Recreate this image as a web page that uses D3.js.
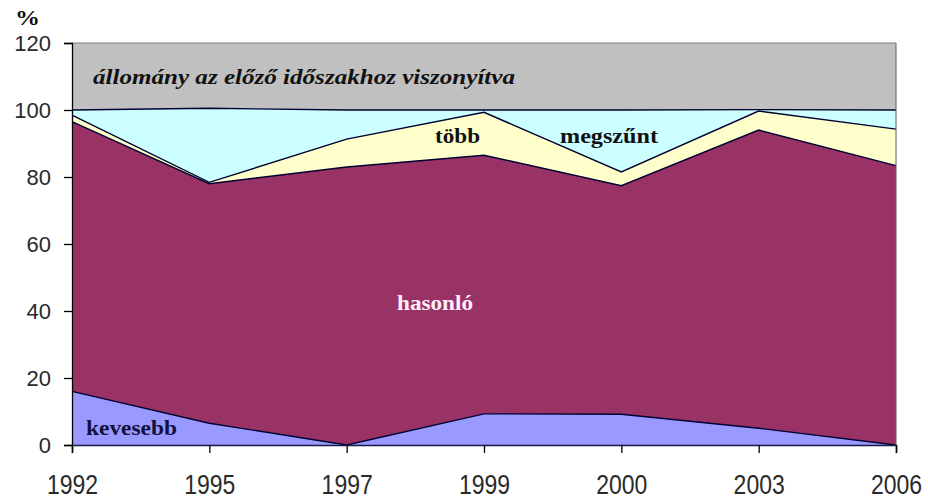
<!DOCTYPE html>
<html><head><meta charset="utf-8">
<script src="https://cdn.jsdelivr.net/npm/d3@7"></script>
<style>body{margin:0;background:#fff}svg{display:block}</style>
</head><body>
<svg id="c" width="928" height="499"></svg>
<script>
const years = ["1992","1995","1997","1999","2000","2003","2006"];
const kevesebb = [16, 6.5, 0, 9.3, 9.2, 5, 0];
const hasonlo  = [80.5, 71.5, 83, 77.2, 68.2, 89, 83.4];
const tobb     = [2, 0.4, 8.3, 12.8, 4.1, 5.7, 10.9];
const megszunt = [1.5, 22.1, 8.7, 0.7, 18.5, 0.4, 5.7];
const yTicks = [0, 20, 40, 60, 80, 100, 120];
const yMax = 120;
const allomany = years.map((_, i) => yMax - kevesebb[i] - hasonlo[i] - tobb[i] - megszunt[i]);

const keys = ["kevesebb","hasonlo","tobb","megszunt","allomany"];
const colors = {kevesebb:"#9999FF", hasonlo:"#993366", tobb:"#FFFFCC", megszunt:"#CCFFFF", allomany:"#C0C0C0"};
const rows = years.map((y, i) => ({year:y, kevesebb:kevesebb[i], hasonlo:hasonlo[i], tobb:tobb[i], megszunt:megszunt[i], allomany:allomany[i]}));

const svg = d3.select("#c");
const L = 72, R = 896, T = 43, B = 445;
const x = d3.scalePoint().domain(years).range([L, R]);
const y = d3.scaleLinear().domain([0, yMax]).range([B, T]);

const stacked = d3.stack().keys(keys)(rows);
const area = d3.area().x(d => x(d.data.year)).y0(d => y(d[0])).y1(d => y(d[1]));
const topLine = d3.line().x(d => x(d.data.year)).y(d => y(d[1]));

svg.append("g").selectAll("path").data(stacked).join("path")
  .attr("d", area).attr("fill", d => colors[d.key]).attr("stroke", "none");

svg.append("g").selectAll("path").data(stacked.filter(s => s.key !== "allomany")).join("path")
  .attr("d", topLine).attr("fill", "none").attr("stroke", "#000033").attr("stroke-width", 1.4);

// plot border (top and right)
svg.append("line").attr("x1", L).attr("x2", R).attr("y1", T).attr("y2", T).attr("stroke", "#808080").attr("stroke-width", 1);
svg.append("line").attr("x1", R).attr("x2", R).attr("y1", T).attr("y2", B).attr("stroke", "#606060").attr("stroke-width", 1);

// Y axis
const yAxis = svg.append("g").attr("transform", `translate(${L},0)`)
  .call(d3.axisLeft(y).tickValues(yTicks).tickSize(8).tickPadding(13).tickFormat(d3.format("d")));
yAxis.select(".domain").attr("stroke", "#000").attr("stroke-width", 1.3);
yAxis.selectAll(".tick line").attr("stroke", "#000").attr("stroke-width", 1.3);
yAxis.selectAll("text").attr("font-family", "Liberation Sans, Arial, sans-serif").attr("font-size", 22).attr("fill", "#2a2a2a");

// X axis
const xAxis = svg.append("g").attr("transform", `translate(0,${B})`)
  .call(d3.axisBottom(x).tickSize(8).tickPadding(0));
xAxis.select(".domain").attr("stroke", "#1a1a4a").attr("stroke-width", 1.6);
xAxis.selectAll(".tick line").attr("stroke", "#000").attr("stroke-width", 1.3);
xAxis.selectAll("text").attr("font-family", "Liberation Sans, Arial, sans-serif").attr("font-size", 23).attr("fill", "#2a2a2a")
  .attr("dy", null).attr("y", 0)
  .attr("transform", "translate(0,49) scale(1,1.2)");

// labels
const serif = "Liberation Serif, Times New Roman, serif";
svg.append("text").attr("x", 15).attr("y", 25).text("%")
  .attr("font-family", serif).attr("font-weight", "bold").attr("font-size", 22).attr("fill", "#111")
  .attr("textLength", 25).attr("lengthAdjust", "spacingAndGlyphs");

function label(txt, x0, base, w, size, color, italic) {
  svg.append("text").attr("x", x0).attr("y", base).text(txt)
    .attr("font-family", serif).attr("font-weight", "bold")
    .attr("font-style", italic ? "italic" : "normal")
    .attr("font-size", size).attr("fill", color)
    .attr("textLength", w).attr("lengthAdjust", "spacingAndGlyphs");
}
label("állomány az előző időszakhoz viszonyítva", 93, 84, 422, 20, "#111", true);
label("több", 435, 143, 45, 21, "#111", false);
label("megszűnt", 560, 143, 98, 21, "#111", false);
label("hasonló", 397, 310, 76, 21, "#fff0f8", false);
label("kevesebb", 86, 435, 91, 21, "#10103a", false);
</script>
</body></html>
